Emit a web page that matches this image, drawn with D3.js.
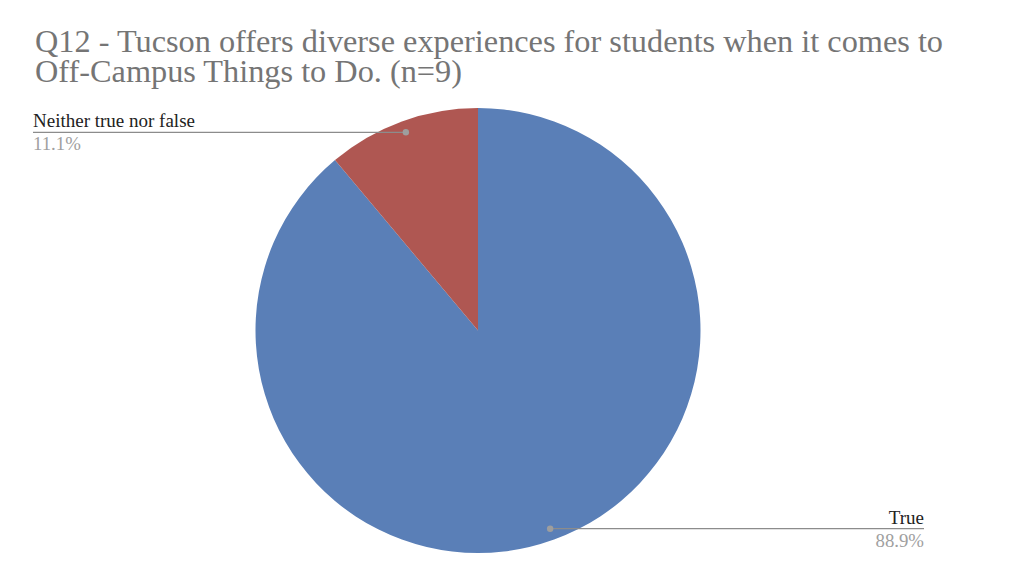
<!DOCTYPE html>
<html><head><meta charset="utf-8">
<script src="https://cdn.jsdelivr.net/npm/d3@7"></script>
<style>html,body{margin:0;padding:0;background:#fff;}svg{display:block;}</style>
</head><body>
<svg id="chart" width="1024" height="564"></svg>
<script>
const titleLines = ["Q12 - Tucson offers diverse experiences for students when it comes to", "Off-Campus Things to Do. (n=9)"];
const categories = ["True", "Neither true nor false"];
const counts = [8, 1];
const percentLabels = ["88.9%", "11.1%"];
const colors = ["#5a7fb7", "#af5752"];

const svg = d3.select("#chart");
const font = "Liberation Serif, Times New Roman, serif";

const title = svg.append("text").attr("class","title")
  .attr("x", 35).attr("y", 52)
  .style("font-family", font).style("font-size", "32.3px").attr("fill", "#757575");
title.selectAll("tspan").data(titleLines).enter().append("tspan")
  .attr("x", 35).attr("dy", (d,i) => i === 0 ? 0 : 30)
  .text(d => d);

const cx = 478, cy = 330.5, R = 222.5;
const g = svg.append("g").attr("transform", `translate(${cx},${cy})`);
const pie = d3.pie().sort(null).value(d => d)(counts);
const arc = d3.arc().innerRadius(0).outerRadius(R);
g.selectAll("path").data(pie).enter().append("path")
  .attr("d", arc).attr("fill", (d,i) => colors[i]);

const labelArc = d3.arc().innerRadius(R*0.948).outerRadius(R*0.948);
pie.forEach((d,i) => {
  const [px, py] = labelArc.centroid(d);
  const x = cx + px, y = cy + py;
  const right = x > cx;
  const edge = right ? 924 : 33;
  svg.append("line").attr("x1", x).attr("y1", y).attr("x2", edge).attr("y2", y)
    .attr("stroke", "#8c8c8c").attr("stroke-width", 1.3);
  svg.append("circle").attr("cx", x).attr("cy", y).attr("r", 3.2).attr("fill", "#9e9e9e");
  svg.append("text").attr("x", edge).attr("y", y - 5)
    .attr("text-anchor", right ? "end" : "start")
    .style("font-family", font).style("font-size", "19px").attr("fill", "#222")
    .text(categories[i]);
  svg.append("text").attr("x", edge).attr("y", y + 18)
    .attr("text-anchor", right ? "end" : "start")
    .style("font-family", font).style("font-size", "18.8px").attr("fill", "#a0a0a0")
    .text(percentLabels[i]);
});
</script>
</body></html>
